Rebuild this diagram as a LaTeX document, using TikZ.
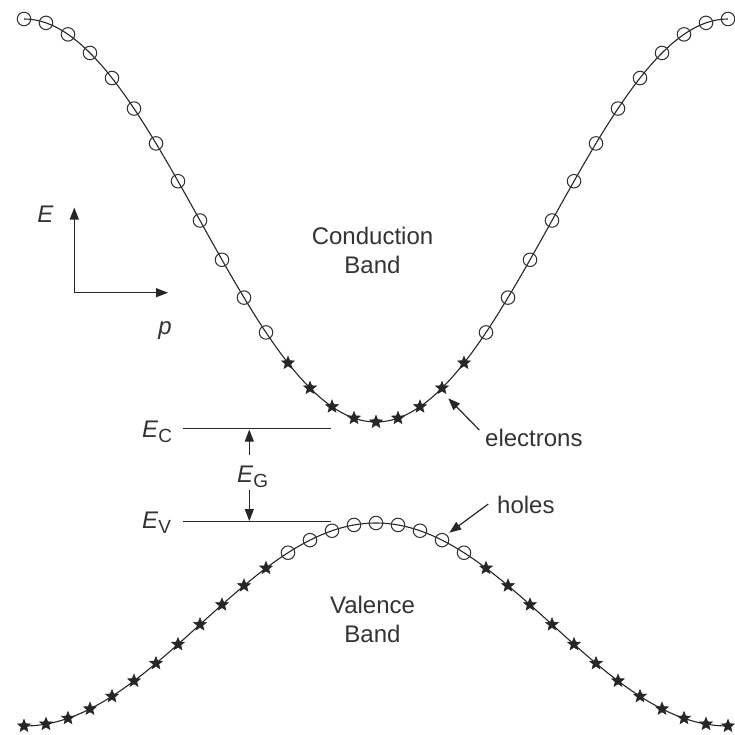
\documentclass[tikz,border=0pt]{standalone}
\usepackage{fontspec}
\setmainfont{Liberation Sans}
\usetikzlibrary{shapes.geometric,arrows.meta}
\begin{document}
\begin{tikzpicture}[x=1pt,y=-1pt,
  curve/.style={line width=1.1pt, draw=black!85},
  hole/.style={circle, draw=black!80, line width=1.05pt, minimum size=13.5pt, inner sep=0pt},
  elec/.style={star, star points=5, star point ratio=2.3, fill=black!85, draw=black!85, line width=0.5pt, minimum size=13.5pt, inner sep=0pt},
  lbl/.style={font=\fontsize{24}{29}\selectfont, text=black!80, inner sep=0pt},
  arr/.style={-{Triangle[length=12pt,width=9pt]}, line width=1.2pt, draw=black!85},
  lev/.style={line width=1.2pt, draw=black!85},
]
\useasboundingbox (0,0) rectangle (735,734);
% bands
\draw[curve] plot[domain=-16:16, samples=160, smooth] ({376+22*\x},{220.5+201.5*cos(\x*11.25)});
\draw[curve] plot[domain=-16:16, samples=160, smooth] ({376+22*\x},{624.5-101.5*cos(\x*11.25)});
% markers
\foreach \i in {0,...,32}{
  \pgfmathsetmacro\xx{24+22*\i}
  \pgfmathsetmacro\yc{220.5+201.5*cos((\i-16)*11.25)}
  \pgfmathsetmacro\yv{624.5-101.5*cos((\i-16)*11.25)}
  \pgfmathtruncatemacro\an{abs(\i-16)}
  \ifnum\an>4
    \node[hole] (cb\i) at (\xx,\yc) {};
    \node[elec] (vb\i) at (\xx,\yv) {};
  \else
    \node[elec] (cb\i) at (\xx,\yc) {};
    \node[hole] (vb\i) at (\xx,\yv) {};
  \fi
}
% levels
\coordinate (ecL) at (183,428.3);
\coordinate (ecR) at (330.7,428.3);
\coordinate (evL) at (183,521.7);
\coordinate (evR) at (330.5,521.7);
\draw[lev] (ecL) -- (ecR);
\draw[lev] (evL) -- (evR);
\node[lbl, anchor=base west] (ec) at (142,437) {\textit{E}\raisebox{-5pt}{\fontsize{19}{19}\selectfont C}};
\node[lbl, anchor=base west] (ev) at (142,528) {\textit{E}\raisebox{-5pt}{\fontsize{19}{19}\selectfont V}};
\node[lbl, anchor=base west] (eg) at (237,482) {\textit{E}\raisebox{-5pt}{\fontsize{19}{19}\selectfont G}};
\coordinate (egA) at (249.3,455);
\coordinate (egAt) at (249.3,429.6);
\coordinate (egB) at (249.3,490);
\coordinate (egBt) at (249.3,521);
\draw[arr] (egA) -- (egAt);
\draw[arr] (egB) -- (egBt);
% axes
\coordinate (O) at (74.3,292.7);
\coordinate (Etip) at (74.3,207.5);
\coordinate (ptip) at (168,292.7);
\draw[arr] (O) -- (Etip);
\draw[arr] (O) -- (ptip);
\node[lbl] (Elab) at (45.5,214) {\textit{E}};
\node[lbl, anchor=base] (plab) at (165,334) {\textit{p}};
% band labels
\node[lbl, align=center] (cbl) at (372.5,250) {Conduction\\Band};
\node[lbl, align=center] (vbl) at (372.5,619) {Valence\\Band};
% carriers
\node[lbl, anchor=base west] (elecl) at (485,446) {electrons};
\node[lbl, anchor=base west] (holel) at (497,513) {holes};
\coordinate (eaS) at (479.3,430);
\coordinate (eaT) at (448.3,398.3);
\coordinate (haS) at (488.3,504);
\coordinate (haT) at (449.3,532.7);
\draw[arr] (eaS) -- (eaT);
\draw[arr] (haS) -- (haT);
\end{tikzpicture}
\end{document}
